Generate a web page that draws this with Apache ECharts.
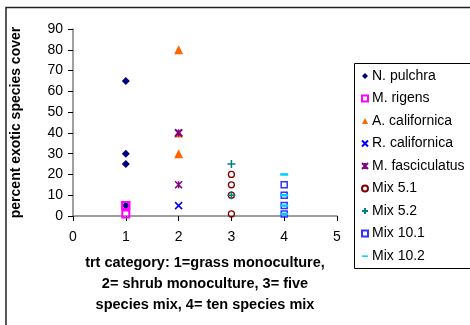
<!DOCTYPE html>
<html><head><meta charset="utf-8">
<script src="https://cdn.jsdelivr.net/npm/echarts@6/dist/echarts.min.js"></script>
<style>html,body{margin:0;padding:0;background:#fff}#c{width:470px;height:325px}</style>
</head><body><div id="c"></div>
<script>
const xTicks = [0,1,2,3,4,5];
const yTicks = [0,10,20,30,40,50,60,70,80,90];
const seriesNames = ['N. pulchra','M. rigens','A. californica','R. californica','M. fasciculatus','Mix 5.1','Mix 5.2','Mix 10.1','Mix 10.2'];
const nPulchra = [[1,65],[1,30],[1,25],[1,5]];
const mRigens = [[1,5],[1,5],[1,1]];
const aCalifornica = [[2,80],[2,40],[2,30]];
const rCalifornica = [[2,5],[2,40]];
const mFasciculatus = [[2,40],[2,15]];
const mix51 = [[3,20],[3,15],[3,10],[3,1]];
const mix52 = [[3,25],[3,10]];
const mix101 = [[4,15],[4,10],[4,5],[4,1]];
const mix102 = [[4,20],[4,10],[4,5],[4,1]];
const xTitle = 'trt category: 1=grass monoculture,\n2= shrub monoculture, 3= five\nspecies mix, 4= ten species mix';
const yTitle = 'percent exotic species cover';

const FONT = 'Liberation Sans, Arial, sans-serif';
const X_PATH = 'path://M0,0L10,10M10,0L0,10';
const AST_PATH = 'path://M0,0L10,10M10,0L0,10M5,0L5,10';
const PLUS_PATH = 'path://M5,0L5,10M0,5L10,5';
const DASH_ICON = 'path://M0,0L0,0M0,4L10,4L10,6.5L0,6.5ZM10,10L10,10';
function filled(name, data, symbol, size, color){
  return {name, type:'scatter', data, symbol, symbolSize:size, itemStyle:{color, opacity:1}};
}
function open(name, data, symbol, size, color, bw){
  return {name, type:'scatter', data, symbol, symbolSize:size, itemStyle:{color:'rgba(255,255,255,0)', borderColor:color, borderWidth:bw||1.5, opacity:1}};
}
const series = [
  filled(seriesNames[0], nPulchra, 'diamond', 8, '#000080'),
  open(seriesNames[1], mRigens, 'rect', 7, '#FF00FF', 2),
  filled(seriesNames[2], aCalifornica, 'triangle', 9, '#FF6600'),
  open(seriesNames[3], rCalifornica, X_PATH, 7, '#0000FF', 1.5),
  open(seriesNames[4], mFasciculatus, AST_PATH, 7, '#800080', 1.5),
  open(seriesNames[5], mix51, 'circle', 6, '#800000', 1.3),
  open(seriesNames[6], mix52, PLUS_PATH, 8, '#008080', 1.5),
  open(seriesNames[7], mix101, 'rect', 6, '#3333FF', 1.5),
  filled(seriesNames[8], mix102, 'rect', [8,2.5], '#00CCFF')
];
series.forEach(s=>{s.emphasis={disabled:true}; s.animation=false;});
const legendData = seriesNames.map((n,i)=> i===8 ? {name:n, icon:DASH_ICON} : {name:n});

const chart = echarts.init(document.getElementById('c'), null, {renderer:'canvas'});
chart.setOption({
  animation:false,
  backgroundColor:'#fff',
  grid:{left:73, right:133, top:29, bottom:109, containLabel:false},
  xAxis:{type:'value', min:xTicks[0], max:xTicks[xTicks.length-1], interval:1,
    axisLine:{show:true, onZero:false, lineStyle:{color:'#808080', width:1.5}},
    axisTick:{show:true, inside:false, length:5, lineStyle:{color:'#000', width:1}},
    axisLabel:{color:'#000', fontFamily:FONT, fontSize:14, margin:14},
    splitLine:{show:false}},
  yAxis:{type:'value', min:yTicks[0], max:yTicks[yTicks.length-1], interval:10,
    name:yTitle, nameLocation:'middle', nameGap:50,
    nameTextStyle:{color:'#000', fontFamily:FONT, fontSize:14, fontWeight:'bold'},
    axisLine:{show:true, lineStyle:{color:'#808080', width:1.5}},
    axisTick:{show:true, length:5, lineStyle:{color:'#000', width:1}},
    axisLabel:{color:'#000', fontFamily:FONT, fontSize:14, margin:10},
    splitLine:{show:false}},
  legend:{orient:'vertical', left:356, top:64, data:legendData, itemWidth:6, itemHeight:6, itemGap:8.5,
    textStyle:{color:'#000', fontFamily:FONT, fontSize:14, padding:[0,0,0,-1]}, selectedMode:false},
  graphic:[
    {type:'rect', shape:{x:6, y:7.5, width:520, height:400}, style:{fill:'none', stroke:'#222', lineWidth:1.5}, z:-10},
    {type:'rect', shape:{x:354.5, y:63.5, width:130, height:205}, style:{fill:'#fff', stroke:'#000', lineWidth:1}, z:-5},
    {type:'text', x:205, y:253, style:{text:xTitle, textAlign:'center', fill:'#000', font:'bold 14.5px '+FONT, lineHeight:20.8}, z:10}
  ],
  series
});
</script></body></html>
